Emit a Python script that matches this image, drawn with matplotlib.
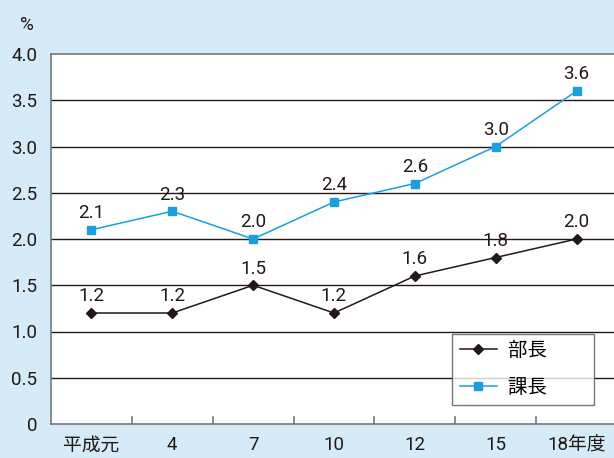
import matplotlib
matplotlib.use("Agg")
import matplotlib.pyplot as plt

plt.rcParams['font.family'] = ['Roboto', 'Noto Sans CJK JP', 'DejaVu Sans']

years = ['平成元', '4', '7', '10', '12', '15', '18年度']
bucho = [1.2, 1.2, 1.5, 1.2, 1.6, 1.8, 2.0]
kacho = [2.1, 2.3, 2.0, 2.4, 2.6, 3.0, 3.6]

bg = '#d5ebf8'
dark = '#231815'
blue = '#1a9fe0'

fig = plt.figure(figsize=(6.14, 4.58), dpi=100, facecolor=bg)
ax = fig.add_axes([51/614, 34/458, 566/614, 370/458])
ax.set_facecolor('white')

x = list(range(len(years)))
# trailing ideographic spaces leave the wide empty right margin in the legend box
ax.plot(x, bucho, color=dark, lw=1.1, marker='D', ms=5.5, label='部長\u3000\u3000', zorder=3)
ax.plot(x, kacho, color=blue, lw=1.1, marker='s', ms=6, label='課長\u3000\u3000', zorder=3)

for i in x:
    ax.annotate(f'{bucho[i]:.1f}', (i, bucho[i]), xytext=(0, 5.5), textcoords='offset points',
                ha='center', va='bottom', fontsize=13.5, color=dark)
    ax.annotate(f'{kacho[i]:.1f}', (i, kacho[i]), xytext=(0, 5.5), textcoords='offset points',
                ha='center', va='bottom', fontsize=13.5, color=dark)

ax.set_xlim(-0.5, 6.5)
ax.set_ylim(0, 4.0)
ax.set_yticks([0, 0.5, 1.0, 1.5, 2.0, 2.5, 3.0, 3.5, 4.0])
ax.set_yticklabels(['0', '0.5', '1.0', '1.5', '2.0', '2.5', '3.0', '3.5', '4.0'], fontsize=13.5, color=dark)
for y in [0.5, 1.0, 1.5, 2.0, 2.5, 3.0, 3.5]:
    ax.axhline(y, color=dark, lw=1.0, zorder=1)
ax.tick_params(axis='y', length=0, pad=10)

# category labels at centres, small ticks between categories
ax.set_xticks(x)
ax.set_xticklabels(years, fontsize=13.5, color=dark)
ax.tick_params(axis='x', length=0, pad=9)
for b in [0.5, 1.5, 2.5, 3.5, 4.5, 5.5]:
    ax.plot([b, b], [0, 0.08], color='#777777', lw=1.2, zorder=2)

for s in ['left', 'bottom', 'top']:
    ax.spines[s].set_color('#777777')
    ax.spines[s].set_linewidth(1.2)
ax.spines['right'].set_visible(False)

fig.text(27/614, 1 - 25/458, '%', fontsize=13.5, color=dark, ha='center', va='center')

leg = ax.legend(loc='lower right', bbox_to_anchor=(0.9594, 0.0514), bbox_transform=ax.transAxes,
                fontsize=14, frameon=True, fancybox=False, edgecolor='#555555', handlelength=1.9,
                borderpad=0.4, labelspacing=1.0, handletextpad=0.6, borderaxespad=0)
leg.get_frame().set_linewidth(1.0)

fig.savefig('out.png', dpi=100, facecolor=bg)
